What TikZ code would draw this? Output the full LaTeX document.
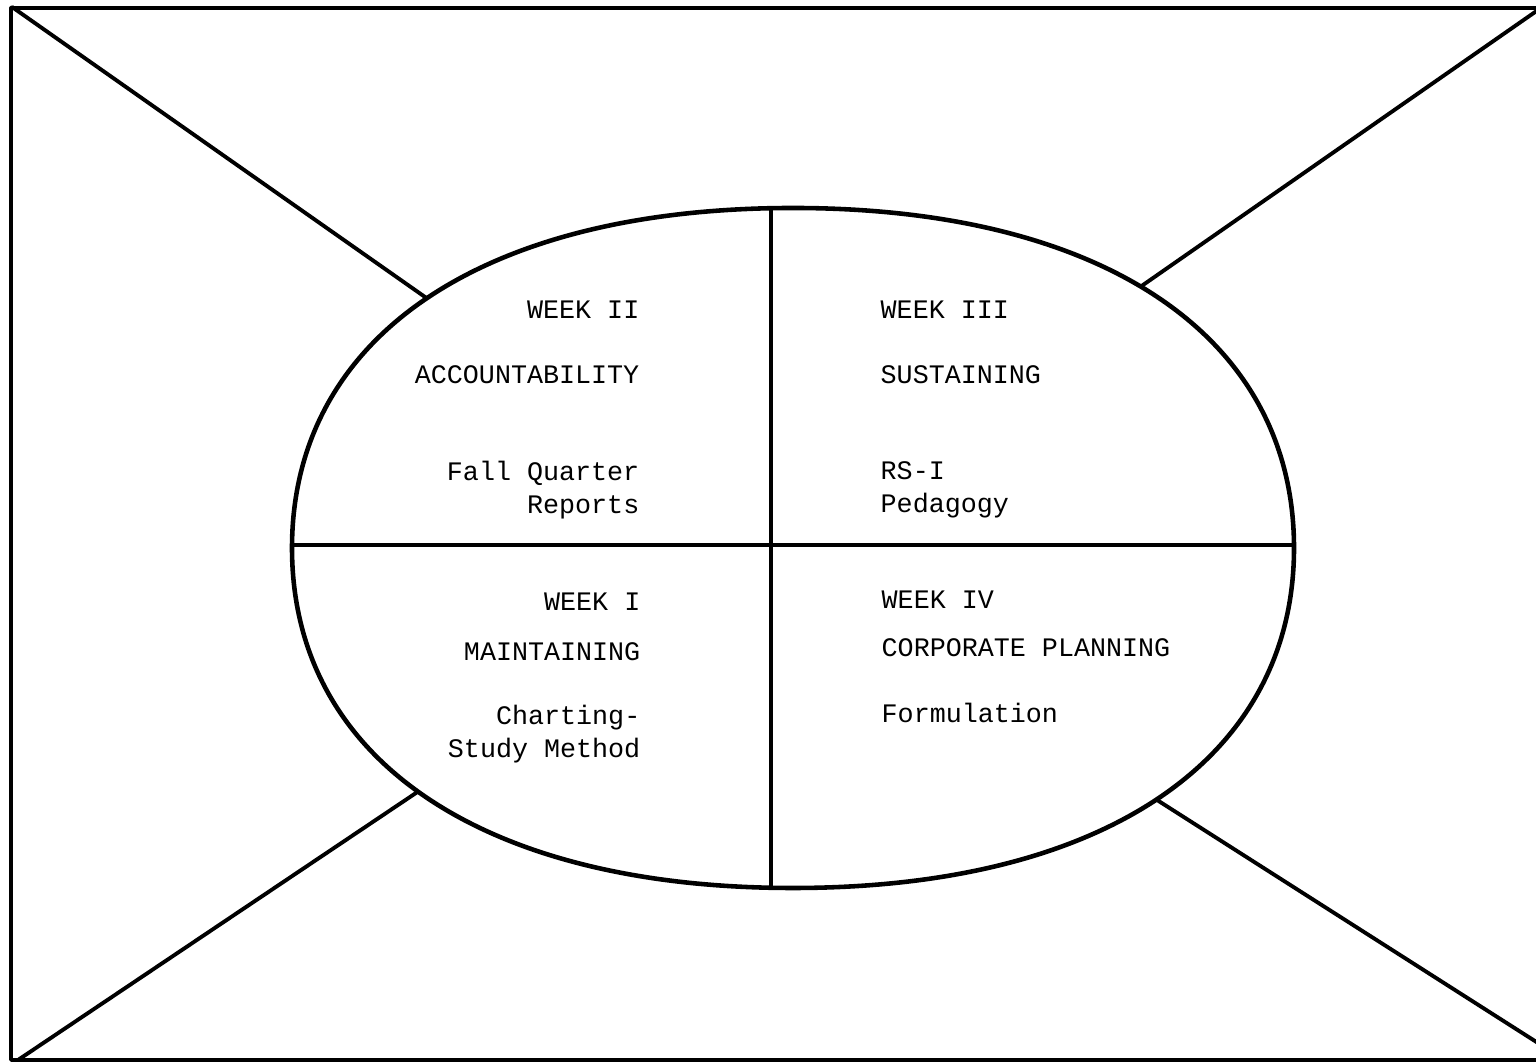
\documentclass[tikz,border=0pt]{standalone}
\usepackage{fontspec}
\setmonofont{Liberation Mono}
\usepackage{tikz}
\usetikzlibrary{positioning}

\newcommand{\typew}{\ttfamily\fontsize{7.6}{9.4}\selectfont}
% fuller than a true ellipse, as in the hand drawing
\newcommand{\ovalpath}{(2.92,5.15) .. controls (2.92,7.26) and (4.82,8.55) .. (7.93,8.55)
    .. controls (11.04,8.55) and (12.94,7.26) .. (12.94,5.15)
    .. controls (12.94,3.04) and (11.04,1.75) .. (7.93,1.75)
    .. controls (4.82,1.75) and (2.92,3.04) .. (2.92,5.15) -- cycle}

\begin{document}
\begin{tikzpicture}[line cap=round, line join=round,
    lbl/.style={font=\typew, inner sep=0pt},
    edge/.style={line width=1.1pt},
    rim/.style={line width=1.3pt}]
            \clip (0,0) rectangle (15.36,10.63);

            % outer frame and corner points
            \draw[edge] (0.11,10.55) rectangle (15.45,0.03);
            \coordinate (tl) at (0.12,10.56);
            \coordinate (tr) at (15.38,10.53);
            \coordinate (bl) at (0.18,0.03);
            \coordinate (br) at (15.38,0.20);

            % where the spokes meet the oval
            \coordinate (e2) at (4.25,7.66);
            \coordinate (e3) at (11.43,7.78);
            \coordinate (e1) at (4.10,2.66);
            \coordinate (e4) at (11.57,2.63);

            \draw[edge, shorten >=-6pt] (tl) -- (e2);
            \draw[edge, shorten >=-6pt] (tr) -- (e3);
            \draw[edge, shorten >=-6pt] (bl) -- (e1);
            \draw[edge, shorten >=-6pt] (br) -- (e4);

            \fill[white] \ovalpath;

            % quarters
            \begin{scope}
                \clip \ovalpath;
                \draw[rim] (7.71,0) -- (7.71,10.63);
                \draw[rim] (0,5.18) -- (15.36,5.18);
            \end{scope}
            \draw[rim] \ovalpath;

            % week II
            \node[lbl, anchor=mid east] (w2) at (6.40,7.52) {WEEK II};
            \node[lbl, anchor=mid east] (acc) at (6.40,6.87) {ACCOUNTABILITY};
            \node[lbl, anchor=east, align=right] (fall) at (6.40,5.73) {Fall Quarter\\Reports};

            % week III
            \node[lbl, anchor=mid west] (w3) at (8.80,7.52) {WEEK III};
            \node[lbl, anchor=mid west] (sus) at (8.80,6.87) {SUSTAINING};
            \node[lbl, anchor=west, align=left] (rs) at (8.80,5.73) {RS-I\\Pedagogy};

            % week I
            \node[lbl, anchor=mid east] (w1) at (6.41,4.60) {WEEK I};
            \node[lbl, anchor=mid east] (main) at (6.41,4.10) {MAINTAINING};
            \node[lbl, anchor=east, align=right] (chart) at (6.41,3.29) {Charting-\\Study Method};

            % week IV
            \node[lbl, anchor=mid west] (w4) at (8.81,4.62) {WEEK IV};
            \node[lbl, anchor=mid west] (corp) at (8.81,4.14) {CORPORATE PLANNING};
            \node[lbl, anchor=mid west] (form) at (8.81,3.48) {Formulation};
        \end{tikzpicture}
\end{document}
